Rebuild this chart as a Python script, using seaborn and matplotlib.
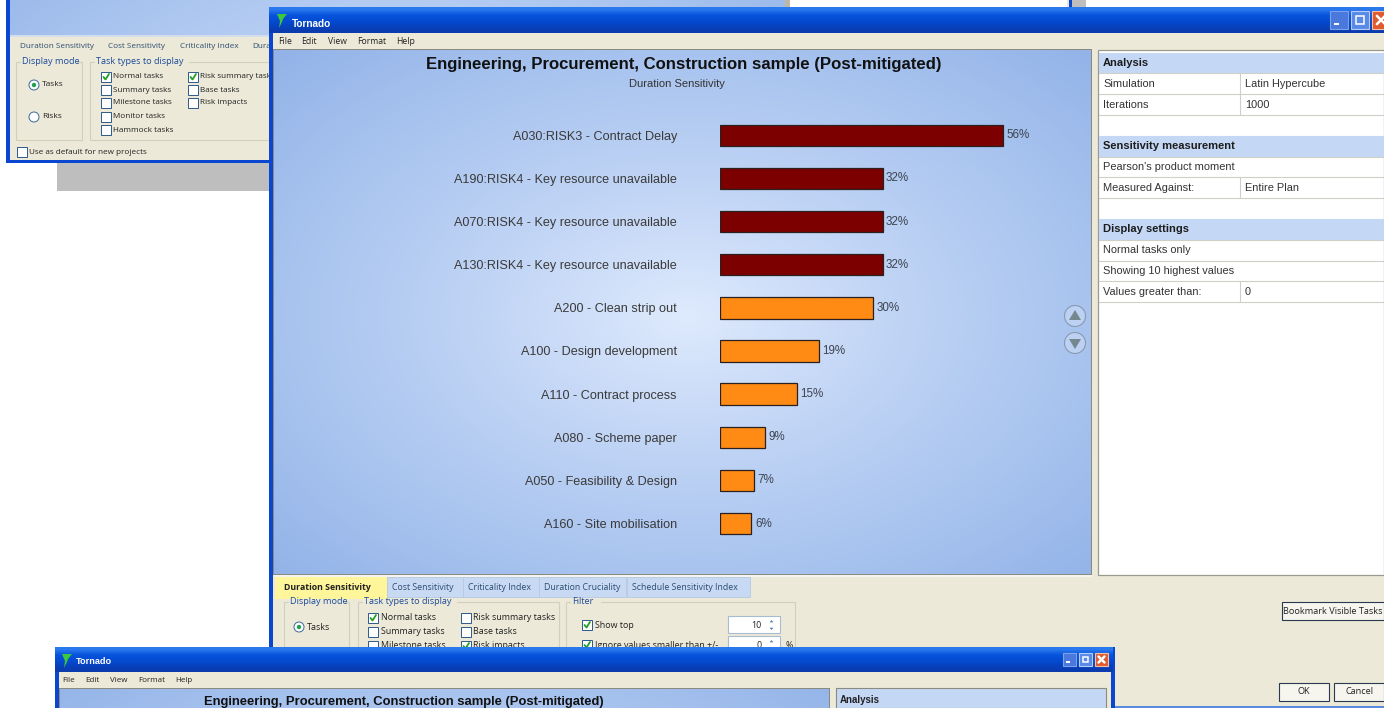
import numpy as np
import pandas as pd
import matplotlib
matplotlib.use('Agg')
import matplotlib.pyplot as plt
from matplotlib.colors import LinearSegmentedColormap
from matplotlib.patches import Rectangle, Circle, Polygon
import seaborn as sns

# chart data
task_labels = ['A030:RISK3 - Contract Delay', 'A190:RISK4 - Key resource unavailable',
               'A070:RISK4 - Key resource unavailable', 'A130:RISK4 - Key resource unavailable',
               'A200 - Clean strip out', 'A100 - Design development', 'A110 - Contract process',
               'A080 - Scheme paper', 'A050 - Feasibility & Design', 'A160 - Site mobilisation']
sensitivity = [55.8, 32.0, 32.0, 32.0, 30.1, 19.4, 15.1, 8.9, 6.6, 6.2]
task_kinds = ['Risk', 'Risk', 'Risk', 'Risk', 'Task', 'Task', 'Task', 'Task', 'Task', 'Task']
kind_colours = {'Risk': '#7D0000', 'Task': '#FF8A14'}

# text of the window around the chart
chart_title = 'Engineering, Procurement, Construction sample (Post-mitigated)'
chart_subtitle = 'Duration Sensitivity'
menu_items = ['File', 'Edit', 'View', 'Format', 'Help']
info_rows = [('Analysis', None, True), ('Simulation', 'Latin Hypercube', False), ('Iterations', '1000', False),
             ('', None, False),
             ('Sensitivity measurement', None, True), ("Pearson's product moment", None, False),
             ('Measured Against:', 'Entire Plan', False), ('', None, False),
             ('Display settings', None, True), ('Normal tasks only', None, False),
             ('Showing 10 highest values', None, False), ('Values greater than:', '0', False)]
main_tabs = ['Duration Sensitivity', 'Cost Sensitivity', 'Criticality Index', 'Duration Cruciality',
             'Schedule Sensitivity Index']

W, H = 1384, 708
BEIGE = '#ECE9D8'
UI_FONT = 'Open Sans'
CHART_FONT = 'Liberation Sans'

sns.set_theme(style='white')
plt.rcParams['font.family'] = [CHART_FONT, 'DejaVu Sans']

fig = plt.figure(figsize=(W / 100, H / 100), dpi=100)
bg = fig.add_axes([0, 0, 1, 1])
bg.axis('off')

order = [10]


def nextz():
    order[0] += 1
    return order[0]


def box(x0, y0, x1, y1, color, edge='none', lw=0.8):
    bg.add_patch(Rectangle((x0, y0), x1 - x0, y1 - y0, facecolor=color, edgecolor=edge, linewidth=lw, zorder=nextz()))


def label(x, y, s, size=6.6, color='#222222', ha='left', weight='normal', font=UI_FONT):
    bg.text(x, y, s, fontsize=size, color=color, ha=ha, va='center', fontweight=weight, family=font, zorder=nextz())


def gradient(x0, y0, x1, y1, image, cmap):
    bg.imshow(image, extent=(x0, x1, y1, y0), aspect='auto', cmap=cmap, vmin=0, vmax=1, zorder=nextz(),
              interpolation='bilinear')


plot_cmap = LinearSegmentedColormap.from_list('plot', [(0, '#DEEAFD'), (0.36, '#C0D4F5'), (0.72, '#A6C2EE'),
                                                       (1, '#93B3E8')])
bar_cmap = LinearSegmentedColormap.from_list('bar', ['#2A78EE', '#0653DC', '#0449CE', '#0A3CB0'])


def plot_area(x0, y0, x1, y1, cx, cy):
    xs, ys = np.meshgrid(np.linspace(x0, x1, 200), np.linspace(y0, y1, 140))
    r = np.sqrt(((xs - cx) / 410.0) ** 2 + ((ys - cy) / 265.0) ** 2) / 1.41
    gradient(x0, y0, x1, y1, np.clip(r, 0, 1), plot_cmap)


def title_bar(x0, x1, y0, y1, size):
    box(x0, y0, x1, y1, '#0A46D0')
    gradient(x0, y0, x1, y1, np.array([[0.0], [0.3], [0.55], [0.8], [1.0]]), bar_cmap)
    mid = (y0 + y1) / 2
    half = size / 2
    cx = x1 - half - 5
    box(cx - half, mid - half, cx + half, mid + half, '#E05A30', edge='#F4C0A8', lw=0.8)
    d = size * 0.23
    bg.plot([cx - d, cx + d], [mid - d, mid + d], color='white', lw=1.8, zorder=nextz())
    bg.plot([cx - d, cx + d], [mid + d, mid - d], color='white', lw=1.8, zorder=nextz())
    cx -= size + 3
    box(cx - half, mid - half, cx + half, mid + half, '#5A8AE8', edge='#B4CCF6', lw=0.8)
    box(cx - d, mid - d, cx + d, mid + d, 'none', edge='white', lw=1.1)
    cx -= size + 3
    box(cx - half, mid - half, cx + half, mid + half, '#4A78DC', edge='#7CA2EC', lw=0.8)
    box(cx - d - 1, mid + d - 1, cx, mid + d + 1, 'white')


def tornado_icon(x, y):
    bg.add_patch(Polygon([(x, y), (x + 10, y), (x + 6, y + 5), (x + 5, y + 8), (x + 2, y + 14), (x + 3, y + 7)],
                         closed=True, facecolor='#3CC83C', edgecolor='none', zorder=nextz()))


def checkbox(x, y, checked=False):
    box(x, y - 5, x + 10, y + 5, 'white', edge='#2C5A8C', lw=0.7)
    if checked:
        bg.plot([x + 2.5, x + 4.5, x + 8], [y, y + 2.5, y - 3], color='#22A022', lw=1.3, zorder=nextz())


def radio(x, y, on=False):
    bg.add_patch(Circle((x, y), 5, facecolor='white', edgecolor='#3A6A9A', linewidth=0.7, zorder=nextz()))
    if on:
        bg.add_patch(Circle((x, y), 2.2, facecolor='#22A050', edgecolor='none', zorder=nextz()))


def button(x0, y0, x1, y1, s):
    box(x0, y0, x1, y1, '#F6F5EE', edge='#2A3A50', lw=0.8)
    label((x0 + x1) / 2, (y0 + y1) / 2, s, ha='center', size=6.6)


def group(x0, y0, x1, y1, s):
    box(x0, y0, x1, y1, BEIGE, edge='#D2CFBC', lw=0.8)
    box(x0 + 5, y0 - 3, x0 + 9 + len(s) * 4.3, y0 + 3, BEIGE)
    label(x0 + 6, y0, s, color='#1C4C9C')


# page and the window behind
box(0, 0, W, H, 'white')
box(57, 163, 270, 191, '#BEBEBE')
box(6, 0, 790, 163, '#0A46D0')
plot_area(10, 0, 785, 35, 400, 200)
box(785, 0, 790, 9, '#BDB9A6')
box(790, 0, 1067, 9, 'white')
box(1067, 0, 1069, 9, BEIGE)
box(1069, 0, 1072, 9, '#0A46D0')
box(1072, 0, 1086, 9, '#BEBEBE')
box(10, 35, 272, 160, BEIGE)
box(10, 35, 272, 37, '#D4DEEA')
for x, s in zip([20, 108, 180, 252], ['Duration Sensitivity', 'Cost Sensitivity', 'Criticality Index', 'Dura']):
    label(x, 47, s, size=5.9, color='#2C4C70')
group(16, 62, 82, 140, 'Display mode')
group(90, 62, 280, 140, 'Task types to display')
radio(34, 85, True)
label(42, 85, 'Tasks', size=6.0)
radio(34, 117)
label(42, 117, 'Risks', size=6.0)
for y, s, on in zip([77, 90, 103, 117, 130],
                    ['Normal tasks', 'Summary tasks', 'Milestone tasks', 'Monitor tasks', 'Hammock tasks'],
                    [True, False, False, False, False]):
    checkbox(101, y, on)
    label(113, y, s, size=5.9)
for y, s, on in zip([77, 90, 103], ['Risk summary tasks', 'Base tasks', 'Risk impacts'], [True, False, False]):
    checkbox(188, y, on)
    label(200, y, s, size=5.9)
checkbox(17, 152)
label(29, 152, 'Use as default for new projects', size=5.9)

# main window
box(269, 7, W, 708, BEIGE)
box(269, 7, 273, 708, '#0A46D0')
title_bar(269, W + 11, 7, 33, 18)
tornado_icon(277, 14)
label(292, 24, 'Tornado', size=7.2, color='white', weight='bold', font='Liberation Sans')
for x, s in zip([278, 301, 328, 357, 396], menu_items):
    label(x, 41, s, size=6.2)
box(273, 49, 1092, 575, '#8A8A80')
plot_area(274, 50, 1091, 574, 688, 316)

# info panel on the right
box(1098, 50, W, 575, 'white', edge='#9A9A90', lw=0.9)
row_y = 52.5
for name, value, header in info_rows:
    if header:
        box(1099, row_y, W, row_y + 20.8, '#C4D8F6')
    bg.plot([1099, W], [row_y + 20.8, row_y + 20.8], color='#CFCFC8', lw=0.8, zorder=nextz())
    if name:
        label(1103, row_y + 10.5, name, size=8.0 if header else 7.9, weight='bold' if header else 'normal',
              font=CHART_FONT, color='#1C1C1C' if header else '#333333')
    if value is not None:
        bg.plot([1240, 1240], [row_y, row_y + 20.8], color='#CFCFC8', lw=0.8, zorder=nextz())
        label(1245, row_y + 10.5, value, size=7.9, font=CHART_FONT, color='#333333')
    row_y += 20.8

# up and down arrows next to the chart
for cy, pts in [(316, [(-6, 4), (6, 4), (0, -6)]), (343, [(-6, -4), (6, -4), (0, 6)])]:
    bg.add_patch(Circle((1075, cy), 10.5, facecolor='#BCD1F3', edgecolor='#8A9AAE', linewidth=0.8, zorder=nextz()))
    bg.add_patch(Polygon([(1075 + px, cy + py) for px, py in pts], closed=True, facecolor='#74888E', edgecolor='none',
                         zorder=nextz()))

# tabs under the chart
box(274, 575, 1092, 577, '#F4F4F0')
box(275, 577, 387, 599, '#FFF59A')
tab_ends = [387, 463, 539, 626, 750]
for x, s, weight, colour, x1 in zip([284, 392, 468, 544, 632], main_tabs, ['bold'] + ['normal'] * 4,
                                    ['#222222'] + ['#2C4C70'] * 4, tab_ends):
    if weight == 'normal':
        box(x - 5, 577, x1, 597, '#C8D9F4', edge='#B6C8E2', lw=0.6)
    label(x, 587, s, size=6.3, color=colour, weight=weight)
group(284, 602, 349, 660, 'Display mode')
group(358, 602, 559, 660, 'Task types to display')
group(566, 602, 795, 660, 'Filter')
radio(299, 627, True)
label(307, 627, 'Tasks', size=6.4)
for y, s, on in zip([618, 632, 646], ['Normal tasks', 'Summary tasks', 'Milestone tasks'], [True, False, False]):
    checkbox(368, y, on)
    label(381, y, s, size=6.4)
for y, s, on in zip([618, 632, 646], ['Risk summary tasks', 'Base tasks', 'Risk impacts'], [False, False, True]):
    checkbox(461, y, on)
    label(473, y, s, size=6.4)
for y, s, n in [(625, 'Show top', '10'), (645, 'Ignore values smaller than +/-', '0')]:
    checkbox(582, y, True)
    label(595, y, s, size=6.4)
    box(728, y - 9, 780, y + 8, 'white', edge='#A8BCD0')
    label(762, y, n, ha='right', size=6.4)
    bg.add_patch(Polygon([(768, y - 2), (775, y - 2), (771.5, y - 6)], closed=True, facecolor='#5080B0', zorder=nextz()))
    bg.add_patch(Polygon([(768, y + 2), (775, y + 2), (771.5, y + 6)], closed=True, facecolor='#5080B0', zorder=nextz()))
label(785, 645, '%', size=6.4)
button(1282, 602, 1384, 620, 'Bookmark Visible Tasks')
button(1279, 683, 1329, 701, 'OK')
button(1334, 683, 1384, 701, 'Cancel')
box(1115, 706, W, 708, '#5A8AE0')

# window in front at the bottom
box(55, 647, 1115, 708, BEIGE)
box(55, 647, 59, 708, '#0A46D0')
box(1111, 647, 1115, 708, '#0A46D0')
title_bar(55, 1113, 647, 672, 13)
tornado_icon(62, 654)
label(76, 662, 'Tornado', size=6.6, color='white', weight='bold', font='Liberation Sans')
for x, s in zip([62, 85, 110, 138, 175], menu_items):
    label(x, 680, s, size=5.8)
box(59, 688, 830, 708, '#8A8A80')
plot_area(60, 689, 829, 708, 445, 950)
box(836, 688, 1106, 708, '#C4D8F6', edge='#8A8A80', lw=0.8)
label(840, 700, 'Analysis', size=7.0, weight='bold', font=CHART_FONT)
label(404, 702, chart_title, size=9.4, color='#111111', ha='center', weight='bold', font=CHART_FONT)

bg.set_xlim(0, W)
bg.set_ylim(H, 0)

# the chart itself
label(684, 65, chart_title, size=12.1, color='#111111', ha='center', weight='bold', font=CHART_FONT)
label(677, 84, chart_subtitle, size=8.0, color='#333333', ha='center', font=CHART_FONT)

df = pd.DataFrame({'task': task_labels, 'sensitivity': sensitivity, 'kind': task_kinds})

top, bottom = 113.7, 545.1
left, right = 720.0, 1090.0
ax = fig.add_axes([left / W, 1 - bottom / H, (right - left) / W, (bottom - top) / H], zorder=5)
sns.barplot(data=df, x='sensitivity', y='task', hue='kind', palette=kind_colours, dodge=False, width=0.496,
            saturation=1, edgecolor='#2A2020', linewidth=0.9, legend=False, ax=ax)
ax.set_xlim(0, (right - left) / 5.08)
ax.set_ylim(9.5, -0.5)
ax.patch.set_alpha(0)
for side in ax.spines.values():
    side.set_visible(False)
ax.set_xlabel('')
ax.set_ylabel('')
ax.set_xticks([])
ax.tick_params(axis='y', length=0, pad=31, labelsize=9.1, labelcolor='#3A3A3A')
for c in ax.containers:
    ax.bar_label(c, fmt='%.0f%%', padding=2.5, fontsize=8.4, color='#3C4450')

fig.savefig('out.png', dpi=100)
